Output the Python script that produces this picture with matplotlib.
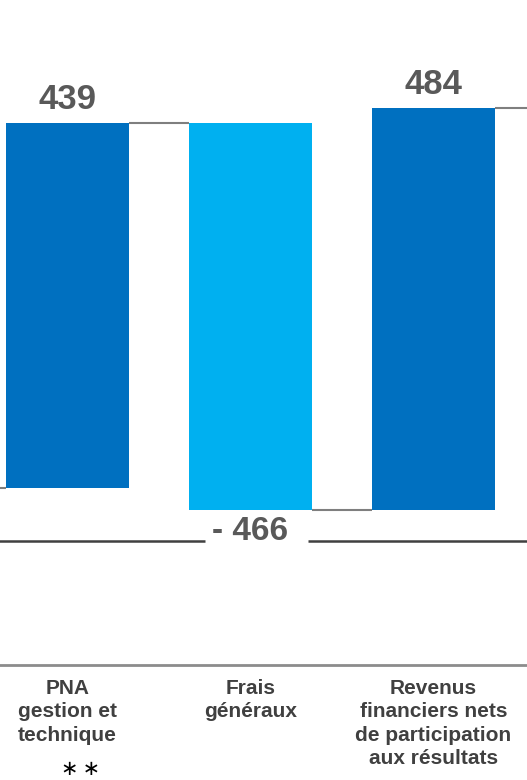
import matplotlib.pyplot as plt

# waterfall step values (M EUR)
categories = ["PNA\ngestion et\ntechnique", "Frais\ngénéraux",
              "Revenus\nfinanciers nets\nde participation\naux résultats"]
values = [439, -466, 484]
value_labels = ["439", "- 466", "484"]
start = 0
bar_colors = ["#0070C0", "#00B0F0", "#0070C0"]

plt.rcParams["font.family"] = ["Liberation Sans", "DejaVu Sans"]

fig = plt.figure(figsize=(5.27, 7.8), dpi=100)
ax = fig.add_axes([0, 0, 1, 1])
ax.set_xlim(-0.369, 2.511)
ax.set_ylim(-351.4, 587.2)
ax.axis("off")

width = 0.667
bases = []
level = start
for v in values:
    bases.append(level)
    level += v

x = list(range(len(values)))
ax.bar(x, values, bottom=bases, width=width, color=bar_colors, zorder=3)

# connector lines between steps
gray = "#7f7f7f"
ax.hlines(bases[0], -0.5, x[0] - width / 2, color=gray, lw=1.5, zorder=2)
for i in range(len(values)):
    top = bases[i] + values[i]
    right = x[i + 1] - width / 2 if i + 1 < len(values) else 2.6
    ax.hlines(top, x[i] + width / 2, right, color=gray, lw=1.5, zorder=2)

# value labels
lab_col = "#595959"
ax.text(x[0], bases[0] + values[0] + 9, value_labels[0], ha="center",
        va="bottom", fontsize=25, fontweight="bold", color=lab_col)
ax.text(x[2], bases[2] + values[2] + 9, value_labels[2], ha="center",
        va="bottom", fontsize=25, fontweight="bold", color=lab_col)

# negative step label on its own line below
neg_y = -64
ax.hlines(neg_y, -0.5, 0.751, color="#404040", lw=1.8)
ax.hlines(neg_y, 1.314, 2.6, color="#404040", lw=1.8)
ax.text(x[1], neg_y + 1, value_labels[1], ha="center", va="baseline",
        fontsize=24, fontweight="bold", color=lab_col)

# category axis
axis_y = -213
ax.hlines(axis_y, -0.5, 2.6, color="#8c8c8c", lw=2)
for xi, c in zip(x, categories):
    ax.text(xi, axis_y - 17, c, ha="center", va="top", fontsize=15,
            fontweight="bold", color="#404040", linespacing=1.28)
ax.text(x[0] + 0.07, -338, "\u2217\u2009\u2217", ha="center", va="center",
        fontsize=15, color="black", family="DejaVu Sans")

fig.savefig("out.png", dpi=100)
